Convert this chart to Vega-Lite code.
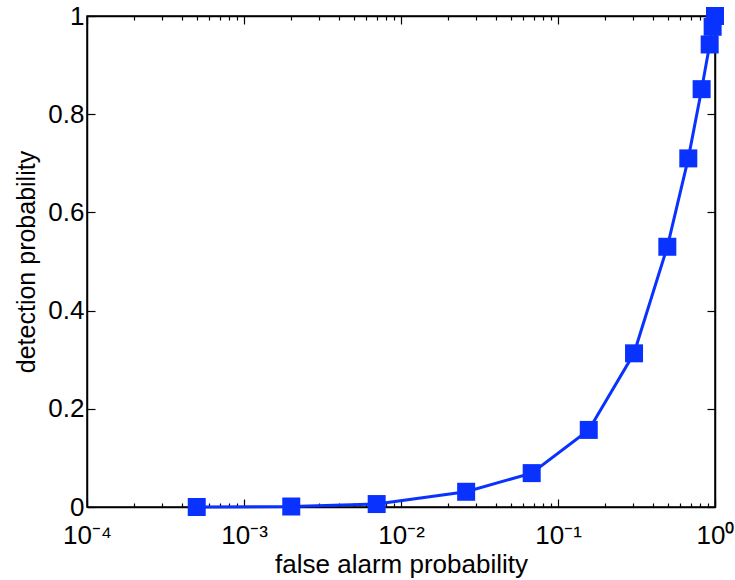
{
  "$schema": "https://vega.github.io/schema/vega-lite/v6.json",
  "width": 628,
  "height": 491,
  "autosize": {"type": "none"},
  "padding": {"left": 87, "top": 16, "right": 20, "bottom": 73},
  "background": "white",
  "config": {
    "view": {"stroke": "black", "strokeWidth": 1.5},
    "axis": {
      "grid": false,
      "domainColor": "black",
      "domainWidth": 1.5,
      "tickColor": "black",
      "tickWidth": 1.2,
      "labelFont": "Liberation Sans",
      "titleFont": "Liberation Sans",
      "labelFontSize": 25,
      "titleFontSize": 25,
      "labelColor": "black",
      "titleColor": "black",
      "titleFontWeight": "normal",
      "labelOverlap": false,
      "labelFlush": false
    }
  },
  "data": {
    "values": [
      {"pfa": 0.0005, "pd": 0.0},
      {"pfa": 0.002, "pd": 0.001},
      {"pfa": 0.007, "pd": 0.006},
      {"pfa": 0.026, "pd": 0.031},
      {"pfa": 0.068, "pd": 0.069},
      {"pfa": 0.157, "pd": 0.157},
      {"pfa": 0.305, "pd": 0.313},
      {"pfa": 0.497, "pd": 0.53},
      {"pfa": 0.676, "pd": 0.71},
      {"pfa": 0.822, "pd": 0.851},
      {"pfa": 0.925, "pd": 0.942},
      {"pfa": 0.966, "pd": 0.978},
      {"pfa": 1.0, "pd": 1.0}
    ]
  },
  "layer": [
    {
      "mark": {"type": "line", "color": "#0a32ff", "strokeWidth": 3},
      "encoding": {
        "x": {
          "field": "pfa", "type": "quantitative",
          "scale": {"type": "log", "domain": [0.0001, 1]},
          "axis": {
            "orient": "bottom",
            "title": "false alarm probability",
            "titleFontSize": 26,
            "titlePadding": -1,
            "labelFontSize": 26,
            "labelFont": "Liberation Sans",
            "labelPadding": 23,
            "values": [0.0001,0.0002,0.0003,0.0004,0.0005,0.0006,0.0007,0.0008,0.0009,0.001,0.002,0.003,0.004,0.005,0.006,0.007,0.008,0.009,0.01,0.02,0.03,0.04,0.05,0.06,0.07,0.08,0.09,0.1,0.2,0.3,0.4,0.5,0.6,0.7,0.8,0.9,1],
            "labelExpr": "datum.value==0.0001?'10⁻⁴':datum.value==0.001?'10⁻³':datum.value==0.01?'10⁻²':datum.value==0.1?'10⁻¹':datum.value==1?'10⁰':''",
            "tickSize": {"condition": {"test": "indexof([0.0001,0.001,0.01,0.1,1], datum.value) >= 0", "value": -8}, "value": -4}
          }
        },
        "y": {
          "field": "pd", "type": "quantitative",
          "scale": {"domain": [0, 1]},
          "axis": {
            "orient": "left",
            "title": "detection probability",
            "titleFontSize": 25,
            "titlePadding": 8,
            "labelFontSize": 26,
            "labelFont": "Liberation Sans",
            "labelPadding": 11,
            "values": [0, 0.2, 0.4, 0.6, 0.8, 1],
            "format": "~g",
            "tickSize": -8
          }
        }
      }
    },
    {
      "mark": {"type": "square", "size": 324, "color": "#0a32ff", "opacity": 1, "filled": true},
      "encoding": {
        "x": {"field": "pfa", "type": "quantitative", "axis": null},
        "y": {"field": "pd", "type": "quantitative", "axis": null}
      }
    },
    {
      "mark": {"type": "point", "opacity": 0},
      "encoding": {
        "x": {
          "field": "pfa", "type": "quantitative",
          "axis": {
            "orient": "top",
            "title": null,
            "labels": false,
            "values": [0.0001,0.0002,0.0003,0.0004,0.0005,0.0006,0.0007,0.0008,0.0009,0.001,0.002,0.003,0.004,0.005,0.006,0.007,0.008,0.009,0.01,0.02,0.03,0.04,0.05,0.06,0.07,0.08,0.09,0.1,0.2,0.3,0.4,0.5,0.6,0.7,0.8,0.9,1],
            "tickSize": {"condition": {"test": "indexof([0.0001,0.001,0.01,0.1,1], datum.value) >= 0", "value": -8}, "value": -4}
          }
        },
        "y": {
          "field": "pd", "type": "quantitative",
          "axis": {
            "orient": "right",
            "title": null,
            "labels": false,
            "values": [0, 0.2, 0.4, 0.6, 0.8, 1],
            "tickSize": -8
          }
        }
      }
    }
  ],
  "resolve": {"axis": {"x": "independent", "y": "independent"}}
}
